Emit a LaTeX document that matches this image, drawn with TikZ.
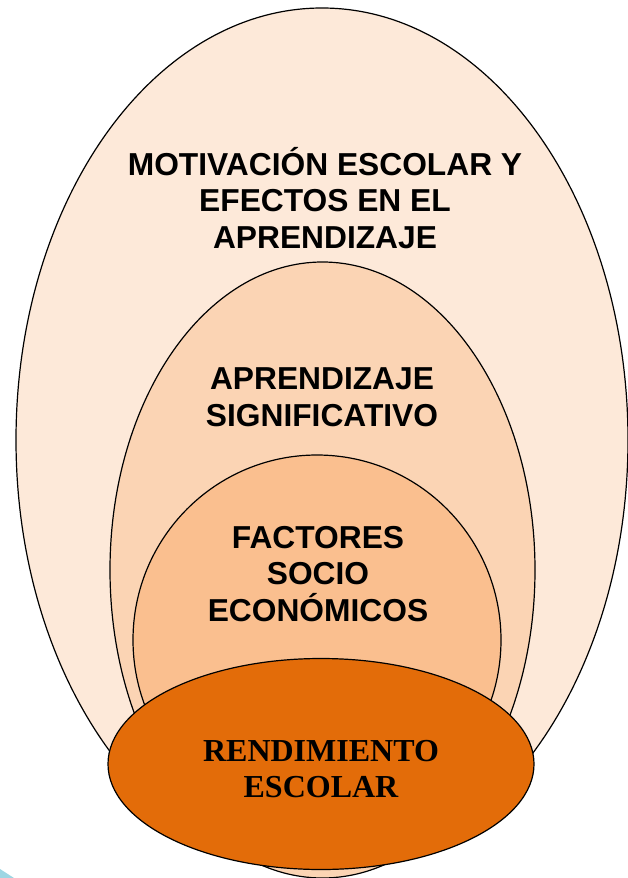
\documentclass[tikz,border=0pt]{standalone}
\usepackage{fontspec}
\usetikzlibrary{shapes.geometric}
\usetikzlibrary{positioning}
\newfontfamily\arialfont{Liberation Sans}
\newfontfamily\timesfont{Liberation Serif}
\definecolor{peachA}{HTML}{FDE9D9}
\definecolor{peachB}{HTML}{FBD4B4}
\definecolor{peachC}{HTML}{FABF8F}
\definecolor{burnt}{HTML}{E36C09}
\definecolor{paleblue}{HTML}{9ED6E3}
\tikzset{
every oval/.style={ % Sets the properties for each ellipse
ellipse,
draw=black,
line width=0.9pt,
inner sep=0pt},
oval/.style={every oval},
label text/.style={ % Sets the properties for the texts
align=center,
inner sep=0pt,
font=\arialfont\bfseries\fontsize{23.8}{27.5}\selectfont}
}

\begin{document}
\begin{tikzpicture}[x=0.75pt, y=-0.75pt]
\useasboundingbox (0,0) rectangle (628,878);
\clip (0,0) rectangle (628,878);
\fill[paleblue] (0,869) -- (14,878) -- (0,878) -- cycle;
\node[oval, fill=peachA, minimum width=459pt, minimum height=648pt] (motivacion) at (322,440) {};
\node[oval, fill=peachB, minimum width=318.75pt, minimum height=462pt] (significativo) at (322.5,570) {};
\node[oval, fill=peachC, minimum width=276pt, minimum height=277.5pt] (factores) at (317,640) {};
\node[oval, fill=burnt, minimum width=319.5pt, minimum height=158.25pt] (rendimiento) at (321,764) {};
% texts of the ellipses
\node[label text] (motivaciontxt) at (325,198) {MOTIVACIÓN ESCOLAR Y\\EFECTOS EN EL\\APRENDIZAJE};
\node[label text] (significativotxt) at (322,397) {APRENDIZAJE\\SIGNIFICATIVO};
\node[label text] (factorestxt) at (318,574) {FACTORES\\SOCIO\\ECONÓMICOS};
\node[label text, font=\timesfont\bfseries\fontsize{24}{27}\selectfont] (rendimientotxt) at (321,769) {RENDIMIENTO\\ESCOLAR};
\end{tikzpicture}
\end{document}
